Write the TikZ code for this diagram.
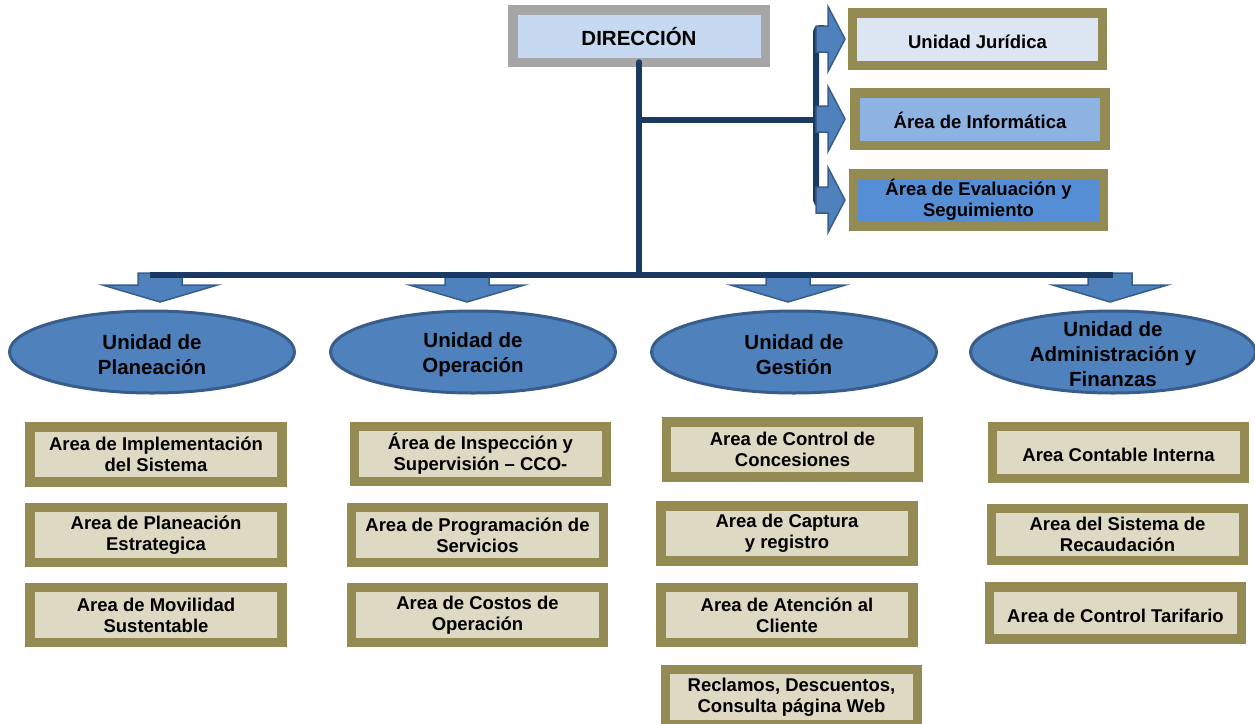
\documentclass[tikz,border=0pt]{standalone}
\usepackage{fontspec}
\setmainfont{Liberation Sans}
\usetikzlibrary{shapes.geometric}

\definecolor{navyline}{HTML}{1B3A63}
\definecolor{arrowfill}{HTML}{4F81BD}
\definecolor{arrowline}{HTML}{385D8A}
\definecolor{frameolive}{HTML}{948A54}
\definecolor{sand}{HTML}{DDD9C3}
\definecolor{grayframe}{HTML}{A6A6A6}
\definecolor{paleblue}{HTML}{C6D9F1}
\definecolor{iceblue}{HTML}{DCE6F2}
\definecolor{midblue}{HTML}{8DB3E2}
\definecolor{deepblue}{HTML}{558ED5}

\tikzset{
  framebox/.style={draw=frameolive, line width=9.5pt, outer sep=0pt, inner sep=0pt,
    align=center, text=black, font=\bfseries\fontsize{18.5}{21}\selectfont,
    execute at begin node={\rule{0pt}{19pt}}},
  areabox/.style={framebox, fill=sand, minimum width=252pt, minimum height=55pt},
  staffbox/.style={framebox, minimum width=250pt, minimum height=52.5pt},
  headbox/.style={framebox, draw=grayframe, fill=paleblue, minimum width=252.5pt,
    minimum height=52.5pt, font=\bfseries\fontsize{20.5}{25}\selectfont},
  unitshape/.style={ellipse, draw=arrowline, line width=3pt, fill=arrowfill,
    minimum width=285pt, minimum height=82pt, inner sep=0pt, outer sep=0pt},
  unittext/.style={align=center, inner sep=0pt, text=black, yshift=-2.5pt,
    font=\bfseries\fontsize{20.5}{25}\selectfont},
  conn/.style={draw=navyline, line width=6pt},
  blockarrow/.style={fill=arrowfill, draw=arrowline, line width=1.5pt},
  pics/downarrow/.style={code={
    \path[blockarrow] (-22,0) -- (22,0) -- (22,12) -- (57.5,12) -- (0,29)
      -- (-57.5,12) -- (-22,12) -- cycle;}},
  pics/rightarrow/.style={code={
    \path[blockarrow] (0,-13) -- (12,-13) -- (12,-32.5) -- (29,0) -- (12,32.5)
      -- (12,13) -- (0,13) -- cycle;}},
}

\begin{document}
\begin{tikzpicture}[x=1pt, y=-1pt]
\useasboundingbox (0,0) rectangle (1255,723);

% head of the organisation
\node[headbox] (dir) at (639,36) {DIRECCIÓN};

% staff units on the right
\node[staffbox, fill=iceblue]  (jur) at (977.5,39)  {Unidad Jurídica};
\node[staffbox, fill=midblue]  (inf) at (980,119)   {Área de Informática};
\node[staffbox, fill=deepblue] (eva) at (978.5,200) {Área de Evaluación y\\Seguimiento};

% main units
\node[unitshape] (u1) at (152,352) {};
\node[unitshape] (u2) at (473,352) {};
\node[unitshape] (u3) at (794,352) {};
\node[unitshape] (u4) at (1113,352) {};
\node[unittext] at (u1) {Unidad de\\Planeación};
\node[unittext] at (u2) {Unidad de\\Operación};
\node[unittext] at (u3) {Unidad de\\Gestión};
\node[unittext] at (u4) {Unidad de\\Administración y\\Finanzas};

% areas of each unit
\node[areabox] (p1) at (156,454.5) {Area de Implementación\\del Sistema};
\node[areabox] (p2) at (156,535)   {Area de Planeación\\Estrategica};
\node[areabox] (p3) at (156,615)   {Area de Movilidad\\Sustentable};

\node[areabox] (o1) at (480.5,454) {Área de Inspección y\\Supervisión – CCO-};
\node[areabox] (o2) at (477.5,535) {Area de Programación de\\Servicios};
\node[areabox] (o3) at (477.5,615) {Area de Costos de\\Operación};

\node[areabox] (g1) at (792.5,449.5) {Area de Control de\\Concesiones};
\node[areabox] (g2) at (787,533.5)   {Area de Captura\\y registro};
\node[areabox] (g3) at (787,615)     {Area de Atención al\\Cliente};
\node[areabox] (g4) at (791.5,697)   {Reclamos, Descuentos,\\Consulta página Web};

\node[areabox, minimum height=52pt] (f1) at (1118.5,452.5) {Area Contable Interna};
\node[areabox, minimum height=52pt] (f2) at (1117.5,534.5) {Area del Sistema de\\Recaudación};
\node[areabox, minimum height=52pt] (f3) at (1115.5,613)   {Area de Control Tarifario};

% connector geometry
\coordinate (busL) at (150,275);
\coordinate (busR) at (1113,275);
\coordinate (junction) at (dir.south |- busL);
\coordinate (tap) at (dir.south |- 0,120);
\coordinate (barTop) at (816,28);
\coordinate (barBot) at (816,204);

% trunk and staff branch
\draw[conn, line cap=round] (dir.south) -- (junction);
\draw[conn] (tap) -- (tap -| barTop);
\draw[conn, rounded corners=4pt] (824,28) -- (barTop) -- (barBot) -- (824,204);

% arrows into the staff units
\pic at (barTop |- jur.west) {rightarrow};
\pic at (barTop |- inf.west) {rightarrow};
\pic at (barTop |- eva.west) {rightarrow};

% arrows down to the main units
\pic at (160,273)  {downarrow};
\pic at (467,273)  {downarrow};
\pic at (788,273)  {downarrow};
\pic at (1110,273) {downarrow};

% distribution bus
\draw[conn] (busL) -- (busR);
\end{tikzpicture}
\end{document}
